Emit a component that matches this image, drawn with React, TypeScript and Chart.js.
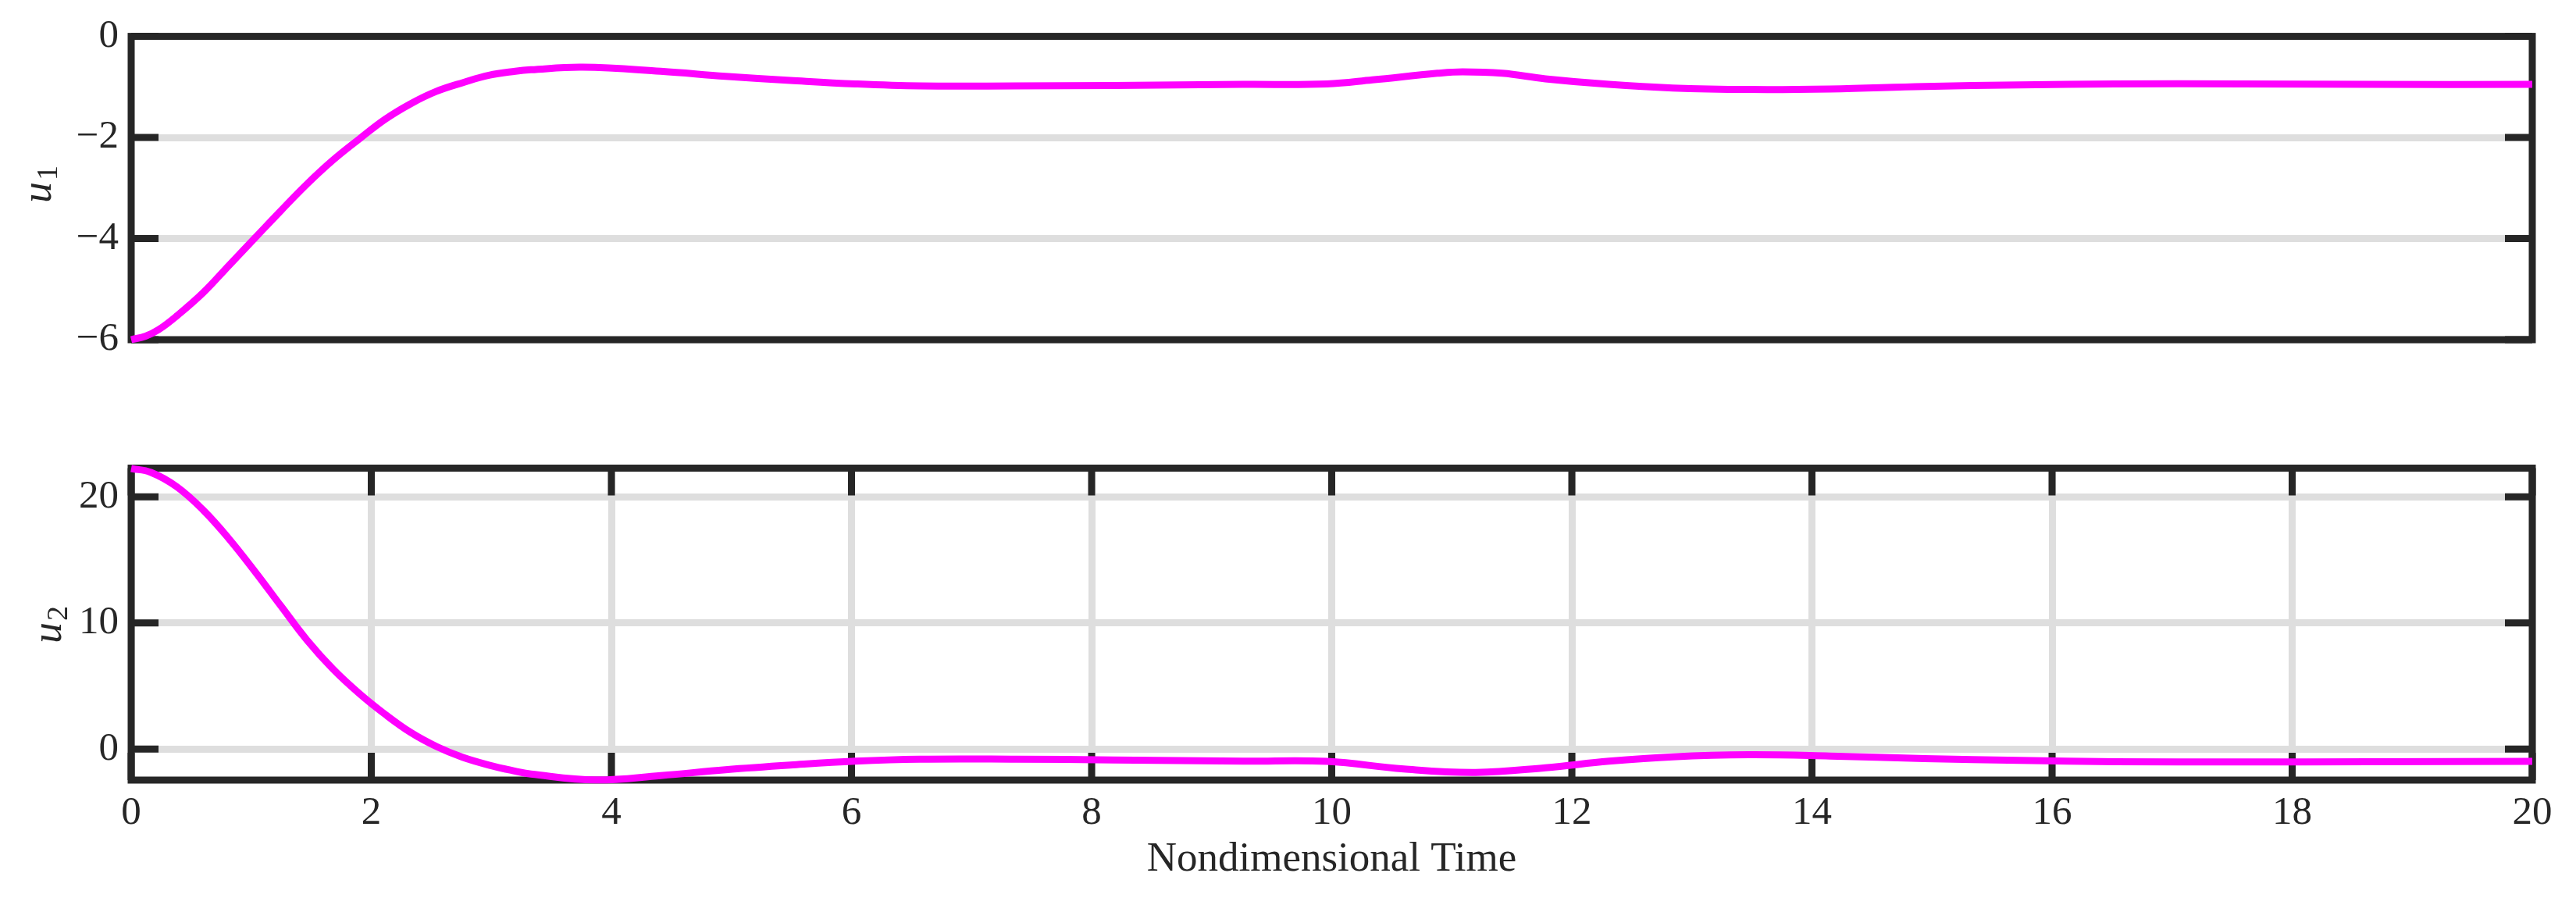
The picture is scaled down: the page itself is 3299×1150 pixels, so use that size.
import React, { useEffect, useRef } from "react";
import { Chart, registerables } from "chart.js";

Chart.register(...registerables);

// ---- Data ----
const timeU1 = [0, 0.12, 0.23, 0.38, 0.6, 0.815, 1.03, 1.25, 1.465, 1.68, 1.9, 2.115, 2.33, 2.54, 2.77, 2.98, 3.2, 3.33, 3.76, 4.41, 4.95, 5.49, 6.03, 6.57, 7.37, 8.18, 9.26, 9.96, 10.34, 10.88, 11.09, 11.42, 11.78, 12.31, 12.84, 13.47, 14.15, 14.94, 15.73, 16.52, 17.58, 18.63, 20];
const valuesU1 = [-6.0, -5.93, -5.8, -5.53, -5.07, -4.53, -3.99, -3.44, -2.92, -2.45, -2.03, -1.64, -1.33, -1.09, -0.91, -0.77, -0.69, -0.66, -0.61, -0.69, -0.79, -0.87, -0.94, -0.98, -0.98, -0.97, -0.95, -0.94, -0.86, -0.73, -0.7, -0.73, -0.84, -0.95, -1.02, -1.05, -1.04, -0.99, -0.96, -0.94, -0.94, -0.95, -0.95];

const timeU2 = [0, 0.165, 0.38, 0.6, 0.815, 1.03, 1.25, 1.465, 1.68, 1.9, 2.115, 2.33, 2.55, 2.76, 2.98, 3.2, 3.33, 3.87, 4.41, 4.95, 5.49, 6.03, 6.57, 7.37, 8.18, 9.26, 9.96, 10.6, 11.2, 11.78, 12.31, 12.84, 13.47, 14.15, 14.94, 15.73, 16.52, 17.58, 18.63, 20];
const valuesU2 = [22.25, 21.94, 20.8, 18.95, 16.67, 14.09, 11.31, 8.63, 6.35, 4.4, 2.75, 1.3, 0.16, -0.66, -1.28, -1.76, -1.99, -2.46, -2.11, -1.65, -1.28, -0.97, -0.81, -0.81, -0.87, -0.97, -0.99, -1.59, -1.86, -1.49, -0.97, -0.62, -0.46, -0.56, -0.77, -0.91, -1.01, -1.03, -1.01, -0.99];

const xTicks = [0, 2, 4, 6, 8, 10, 12, 14, 16, 18, 20];
const yTicksU1 = [-6, -4, -2, 0];
const yTicksU2 = [0, 10, 20];
const xRange = [0, 20];
const yRangeU1 = [-6, 0];
const yRangeU2 = [-2.47, 22.28];
const xLabel = "Nondimensional Time";
const yLabelU1 = ["u", "1"];
const yLabelU2 = ["u", "2"];

// ---- Styles ----
const W = 3299;
const TOP_H = 500;
const BOT_H = 650;
const DARK = "#262626";
const GRID = "#dedede";
const MAGENTA = "#ff00ff";
const FONT = "'Liberation Serif', 'Times New Roman', serif";

const fmt = (v: number | string) => String(v).replace("-", "\u2212");

function boxTicksPlugin(showX: boolean) {
  return {
    id: "boxTicks",
    beforeDatasetsDraw(chart: any) {
      const { ctx, chartArea } = chart;
      const { left, right, top, bottom } = chartArea;
      const tl = 35;
      ctx.save();
      ctx.strokeStyle = DARK;
      ctx.lineWidth = 9;
      ctx.lineCap = "butt";
      const ys = chart.scales.y;
      ctx.beginPath();
      ys.ticks.forEach((t: any) => {
        const p = ys.getPixelForValue(t.value);
        ctx.moveTo(left, p);
        ctx.lineTo(left + tl, p);
        ctx.moveTo(right, p);
        ctx.lineTo(right - tl, p);
      });
      if (showX) {
        const xs = chart.scales.x;
        xs.ticks.forEach((t: any) => {
          const p = xs.getPixelForValue(t.value);
          ctx.moveTo(p, bottom);
          ctx.lineTo(p, bottom - tl);
          ctx.moveTo(p, top);
          ctx.lineTo(p, top + tl);
        });
      }
      ctx.stroke();
      ctx.lineJoin = "miter";
      ctx.strokeRect(left, top, right - left, bottom - top);
      ctx.restore();
    },
  };
}

function yLabelPlugin(parts: string[], baseX: number, centerY: number) {
  return {
    id: "yLabel",
    afterDraw(chart: any) {
      const ctx = chart.ctx;
      ctx.save();
      ctx.fillStyle = DARK;
      ctx.textBaseline = "alphabetic";
      ctx.textAlign = "left";
      const mainFont = `italic 54px ${FONT}`;
      const subFont = `38px ${FONT}`;
      ctx.font = mainFont;
      const wMain = ctx.measureText(parts[0]).width;
      ctx.font = subFont;
      const wSub = ctx.measureText(parts[1]).width;
      const total = wMain + wSub + 2;
      ctx.translate(baseX, centerY);
      ctx.rotate(-Math.PI / 2);
      const x0 = -total / 2;
      ctx.font = mainFont;
      ctx.fillText(parts[0], x0, 0);
      ctx.font = subFont;
      ctx.fillText(parts[1], x0 + wMain + 2, 8);
      ctx.restore();
    },
  };
}

function makeConfig(
  times: number[],
  values: number[],
  yRange: number[],
  yTicks: number[],
  showX: boolean,
  label: string[],
  labelX: number,
  labelY: number,
  padding: any
): any {
  return {
    type: "line",
    data: {
      datasets: [
        {
          data: times.map((t, i) => ({ x: t, y: values[i] })),
          borderColor: MAGENTA,
          borderWidth: 9,
          pointRadius: 0,
          fill: false,
          tension: 0.4,
          clip: false,
        },
      ],
    },
    options: {
      responsive: false,
      devicePixelRatio: 1,
      animation: false,
      layout: { padding },
      plugins: { legend: { display: false }, tooltip: { enabled: false } },
      scales: {
        x: {
          type: "linear",
          display: showX,
          min: xRange[0],
          max: xRange[1],
          afterBuildTicks: (s: any) => {
            s.ticks = xTicks.map((v) => ({ value: v }));
          },
          afterFit: (s: any) => {
            if (showX) s.height = 151;
          },
          grid: { color: GRID, lineWidth: 9, drawTicks: false },
          border: { display: false },
          ticks: {
            color: DARK,
            font: { family: FONT, size: 51 },
            padding: 12,
            maxRotation: 0,
            autoSkip: false,
            callback: (v: any) => fmt(v),
          },
          title: {
            display: showX,
            text: xLabel,
            color: DARK,
            font: { family: FONT, size: 53 },
            padding: { top: 0, bottom: 17 },
          },
        },
        y: {
          type: "linear",
          min: yRange[0],
          max: yRange[1],
          afterBuildTicks: (s: any) => {
            s.ticks = yTicks.map((v) => ({ value: v }));
          },
          afterFit: (s: any) => {
            s.width = 168;
          },
          grid: { color: GRID, lineWidth: 9, drawTicks: false },
          border: { display: false },
          ticks: {
            color: DARK,
            font: { family: FONT, size: 51 },
            padding: 16,
            autoSkip: false,
            callback: (v: any) => fmt(v),
          },
        },
      },
    },
    plugins: [boxTicksPlugin(showX), yLabelPlugin(label, labelX, labelY)],
  };
}

export default function App() {
  const topRef = useRef<HTMLCanvasElement | null>(null);
  const botRef = useRef<HTMLCanvasElement | null>(null);

  useEffect(() => {
    const top = new Chart(
      topRef.current as HTMLCanvasElement,
      makeConfig(timeU1, valuesU1, yRangeU1, yTicksU1, false, yLabelU1, 65, 236, {
        left: 0,
        top: 36,
        right: 56,
        bottom: TOP_H - 435,
      })
    );
    const bot = new Chart(
      botRef.current as HTMLCanvasElement,
      makeConfig(timeU2, valuesU2, yRangeU2, yTicksU2, true, yLabelU2, 78, 300, {
        left: 0,
        top: 99.5,
        right: 56,
        bottom: 0,
      })
    );
    return () => {
      top.destroy();
      bot.destroy();
    };
  }, []);

  return (
    <div style={{ position: "absolute", left: 0, top: 0, width: W, height: TOP_H + BOT_H, background: "#ffffff" }}>
      <canvas
        ref={topRef}
        width={W}
        height={TOP_H}
        style={{ position: "absolute", left: 0, top: 0, width: W, height: TOP_H }}
      />
      <canvas
        ref={botRef}
        width={W}
        height={BOT_H}
        style={{ position: "absolute", left: 0, top: TOP_H, width: W, height: BOT_H }}
      />
    </div>
  );
}
